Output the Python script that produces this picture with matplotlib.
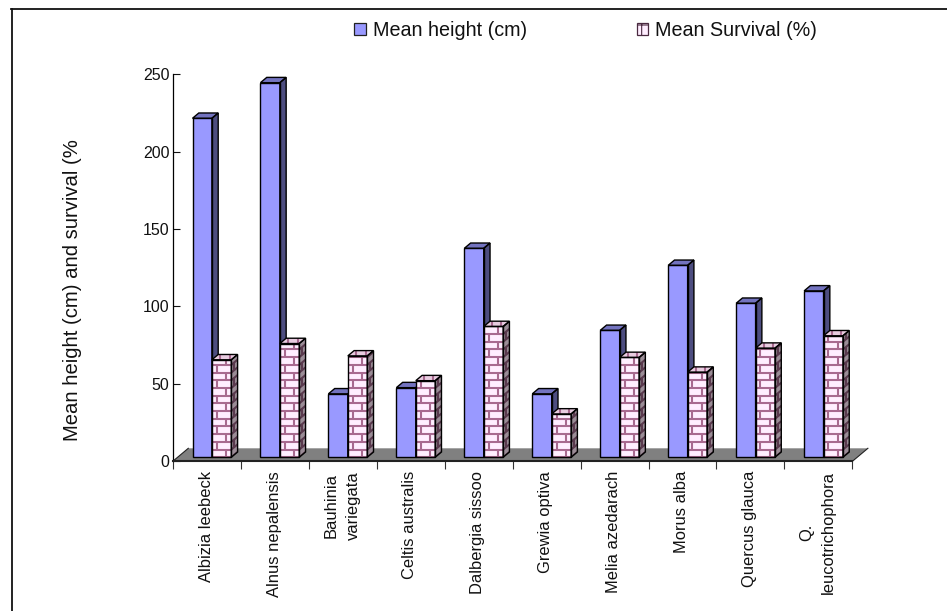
import matplotlib
matplotlib.use('Agg')
import matplotlib.pyplot as plt
from matplotlib.collections import LineCollection
from matplotlib.lines import Line2D
from matplotlib.patches import Patch, Polygon

plt.rcParams['font.family'] = ['Liberation Sans', 'DejaVu Sans']
plt.rcParams['hatch.linewidth'] = 0.8

species = ['Albizia leebeck', 'Alnus nepalensis', 'Bauhinia\nvariegata', 'Celtis australis',
           'Dalbergia sissoo', 'Grewia optiva', 'Melia azedarach', 'Morus alba',
           'Quercus glauca', 'Q.\nleucotrichophora']
mean_height = [219, 242, 41, 45, 135, 41, 82, 124, 99.5, 107.5]
mean_survival = [63, 73.5, 65.5, 49.5, 84.5, 28, 64.5, 55, 70.5, 78.5]
y_ticks = [0, 50, 100, 150, 200, 250]

W, H = 947, 611
PX_X = 67.96   # pixels per category
PX_Y = 1.548   # pixels per y unit

# bar geometry in data units
BAR_W = 19.4 / PX_X
BAR_OFF = 19.7 / PX_X
BASE = 4 / PX_Y
DX = 6.3 / PX_X
DY = 5.3 / PX_Y
FLOOR_DX = 15.5 / PX_X
FLOOR_DY = 13 / PX_Y
ROW = 7.7 / PX_Y

fig = plt.figure(figsize=(W / 100, H / 100), dpi=100)
ax = fig.add_axes([172.8 / W, 1 - 461.3 / H, 10 * PX_X / W, 250 * PX_Y / H])
ax.patch.set_alpha(0)
ax.set_xlim(0, 10)
ax.set_ylim(0, 250)


def face(pts, color, z):
    p = Polygon(pts, closed=True, facecolor=color, edgecolor='none', zorder=z)
    ax.add_patch(p)
    return p


def outline(pts, z):
    ax.add_patch(Polygon(pts, closed=True, fill=False, edgecolor='#000000', linewidth=1.0, zorder=z))


def mortar(segs, clip, color, z):
    lc = LineCollection(segs, colors=color, linewidths=1.5, zorder=z)
    ax.add_collection(lc, autolim=False)
    lc.set_clip_path(clip)


def blue_bar(x, top, z):
    front = [(x, BASE), (x + BAR_W, BASE), (x + BAR_W, top), (x, top)]
    side = [(x + BAR_W, BASE), (x + BAR_W + DX, BASE + DY), (x + BAR_W + DX, top + DY), (x + BAR_W, top)]
    lid = [(x, top), (x + BAR_W, top), (x + BAR_W + DX, top + DY), (x + DX, top + DY)]
    face(front, '#9999ff', z)
    face(side, '#4d4d80', z)
    face(lid, '#7373bf', z)
    outline(front, z)
    outline(side, z)
    outline(lid, z)


def brick_bar(x, top, z):
    front = [(x, BASE), (x + BAR_W, BASE), (x + BAR_W, top), (x, top)]
    side = [(x + BAR_W, BASE), (x + BAR_W + DX, BASE + DY), (x + BAR_W + DX, top + DY), (x + BAR_W, top)]
    lid = [(x, top), (x + BAR_W, top), (x + BAR_W + DX, top + DY), (x + DX, top + DY)]

    p = face(front, '#ffeeff', z)
    segs = []
    row = 0
    v = BASE
    while v < top:
        segs.append([(x, v), (x + BAR_W, v)])
        frac = 0.25 if row % 2 else 0.75
        segs.append([(x + frac * BAR_W, v), (x + frac * BAR_W, v + ROW)])
        v += ROW
        row += 1
    mortar(segs, p, '#a86a90', z)

    p = face(side, '#9a8c96', z)
    segs = []
    row = 0
    v = BASE
    while v < top + DY:
        segs.append([(x + BAR_W, v), (x + BAR_W + DX, v + DY)])
        if row % 2:
            segs.append([(x + BAR_W + DX / 2, v + DY / 2), (x + BAR_W + DX / 2, v + DY / 2 + ROW)])
        v += ROW
        row += 1
    mortar(segs, p, '#5a3a4e', z)

    p = face(lid, '#e8cce0', z)
    segs = [[(x + f * BAR_W + DX / 2, top), (x + f * BAR_W + DX / 2, top + DY)] for f in (0.25, 0.75)]
    mortar(segs, p, '#a86a90', z)

    outline(front, z)
    outline(side, z)
    outline(lid, z)


# floor
floor = [(0, 0), (10, 0), (10 + FLOOR_DX, FLOOR_DY), (FLOOR_DX, FLOOR_DY)]
ax.add_patch(Polygon(floor, closed=True, facecolor='#808080', edgecolor='none', zorder=1, clip_on=False))
ax.plot([0, FLOOR_DX], [0, FLOOR_DY], color='#222222', lw=0.8, zorder=1.5, clip_on=False)
ax.plot([10, 10 + FLOOR_DX], [0, FLOOR_DY], color='#222222', lw=0.8, zorder=1.5, clip_on=False)

z = 2
for i in range(len(species)):
    blue_bar(i + BAR_OFF, BASE + mean_height[i], z)
    brick_bar(i + BAR_OFF + BAR_W, BASE + mean_survival[i], z + 1)
    z += 2

for s in ['top', 'right']:
    ax.spines[s].set_visible(False)
ax.spines['left'].set_linewidth(0.9)
ax.spines['bottom'].set_linewidth(1.5)
ax.spines['bottom'].set_color('#222222')
ax.spines['bottom'].set_zorder(50)

ax.set_yticks(y_ticks)
ax.tick_params(axis='y', direction='in', length=5.2, width=0.8, pad=2.5, labelsize=11.5, colors='#111111')
ax.set_xticks(range(11))
ax.set_xticklabels([])
ax.tick_params(axis='x', which='major', length=6, width=0.8, color='#333333')
ax.set_xticks([i + 0.49 for i in range(10)], minor=True)
ax.set_xticklabels(species, minor=True, rotation=90, va='top', ha='center', ma='center',
                   linespacing=1.6, fontsize=11.9, color='#111111')
ax.tick_params(axis='x', which='minor', length=0, pad=7)

fig.text(73 / W, 1 - 290 / H, 'Mean height (cm) and survival (%', rotation=90, ha='center', va='center',
         fontsize=14.6, color='#111111')

handles = [Patch(facecolor='#9999ff', edgecolor='#222222', linewidth=0.9),
           Patch(facecolor='#ffeeff', edgecolor='#4a2a40', linewidth=0.9, hatch='+')]
fig.legend(handles, ['Mean height (cm)', 'Mean Survival (%)'], ncol=2, frameon=False, fontsize=14.25,
           loc='center left', bbox_to_anchor=(354 / W, 1 - 30.5 / H), borderaxespad=0, borderpad=0,
           handlelength=0.6, handleheight=0.55, handletextpad=0.34, columnspacing=5.55,
           labelcolor='#111111')

# frame around the picture, open at right and bottom
fig.add_artist(Line2D([11.5 / W, 11.5 / W], [0, 1 - 9 / H], color='#111111', lw=1.3))
fig.add_artist(Line2D([11 / W, 1], [1 - 9 / H, 1 - 9 / H], color='#111111', lw=1.3))

plt.savefig('out.png', dpi=100)
